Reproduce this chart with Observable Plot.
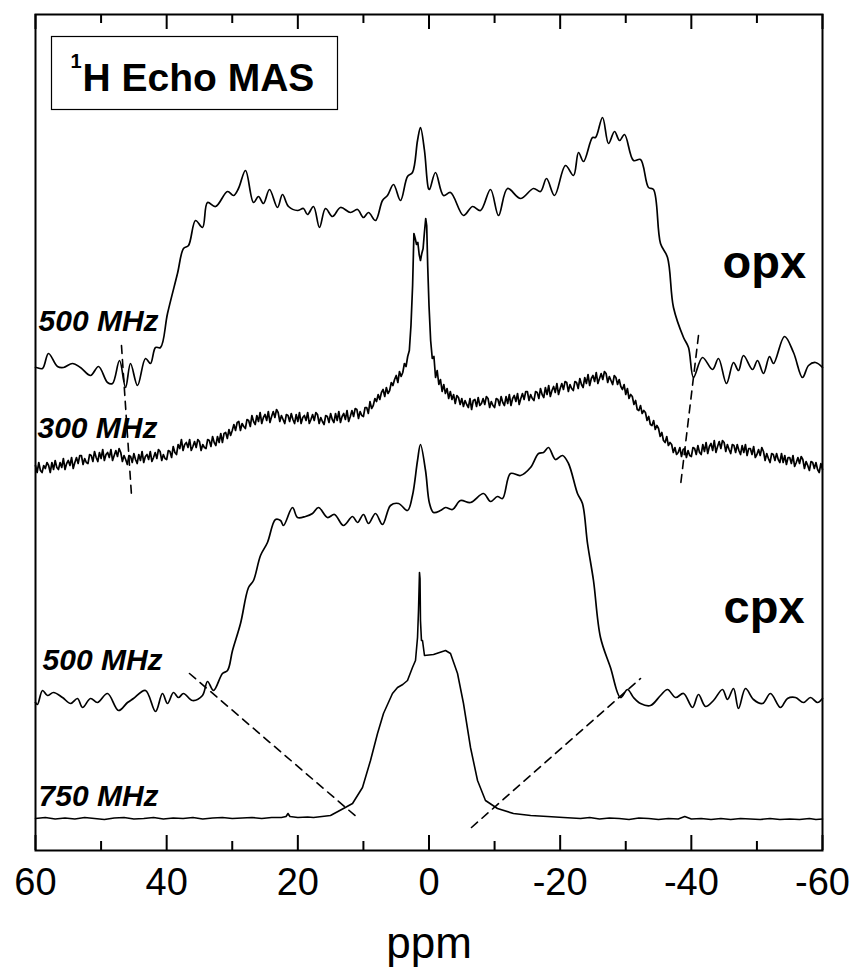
<!DOCTYPE html>
<html><head><meta charset="utf-8">
<script src="https://cdn.jsdelivr.net/npm/d3@7"></script>
<script src="https://cdn.jsdelivr.net/npm/@observablehq/plot@0.6"></script>
<style>body{margin:0;background:#fff;} svg{display:block;}</style>
</head><body><div id="chart"></div>
<script>
// x ticks (ppm)
const majorTicks = [60, 40, 20, 0, -20, -40, -60];
const minorTicks = [50, 30, 10, -10, -30, -50];

// Spectra: [ppm, stacked intensity (a.u.)]
const opx500 = [[60,483],[59.85,483],[58.93,482],[58.02,497],[56.65,484],[55.73,483],[54.36,487],[53.14,483],[51.61,475],[50.39,484],[49.02,468],[48.26,467],[47.19,490],[46.27,463],[45.51,487],[44.45,465],[43.23,492],[42.47,487],[41.70,503],[40.94,503],[39.87,537],[38.35,577],[37.43,602],[36.67,605],[35.60,630],[34.54,623],[33.77,648],[32.55,644],[30.72,659],[29.81,655],[29.05,662],[27.98,680],[26.76,648],[26.00,654],[25.24,647],[24.32,661],[23.10,643],[22.34,656],[21.42,644],[20.05,640],[19.14,642],[18.53,636],[17.61,644],[16.70,623],[15.78,642],[14.71,634],[13.49,643],[11.97,638],[10.90,641],[9.99,633],[9.22,638],[8.16,630],[7.09,650],[6.33,655],[5.41,666],[4.35,650],[3.28,674],[2.52,678],[1.75,710],[1.30,723],[0.69,700],[0.08,662],[-0.08,661],[-0.99,678],[-2.21,655],[-3.28,658],[-5.26,635],[-6.63,644],[-7.85,640],[-9.38,661],[-10.60,635],[-11.97,662],[-13.95,652],[-15.93,662],[-17.00,659],[-17.92,672],[-19.14,655],[-20.81,685],[-22.03,675],[-22.80,698],[-23.56,689],[-24.93,713],[-25.39,713],[-26.46,733],[-27.37,707],[-28.29,719],[-29.05,710],[-29.81,716],[-31.18,690],[-32.25,691],[-33.47,663],[-34.23,661],[-35.30,607],[-36.37,593],[-37.28,543],[-38.81,513],[-39.57,503],[-40.33,473],[-41.70,493],[-43.23,481],[-44.14,492],[-45.36,467],[-46.43,488],[-47.19,480],[-47.95,495],[-49.33,481],[-50.09,490],[-51.00,477],[-51.92,494],[-52.53,487],[-54.21,514],[-55.58,498],[-56.95,473],[-57.87,485],[-58.93,488],[-60.00,483]];

const opx300 = [[60,385],[59.75,378],[59.5,388],[59.25,380],[59,378],[58.75,385],[58.5,382],[58.25,388],[58,385],[57.75,378],[57.5,388],[57.25,381],[57,390],[56.75,383],[56.5,381],[56.25,388],[56,383],[55.75,392],[55.5,381],[55.25,387],[55,390],[54.75,385],[54.5,393],[54.25,382],[54,388],[53.75,393],[53.5,387],[53.25,395],[53,395],[52.75,386],[52.5,392],[52.25,388],[52,387],[51.75,396],[51.5,395],[51.25,389],[51,399],[50.75,393],[50.5,389],[50.25,398],[50,392],[49.75,401],[49.5,390],[49.25,396],[49,398],[48.75,393],[48.5,401],[48.25,390],[48,395],[47.75,400],[47.5,394],[47.25,402],[47,398],[46.75,389],[46.5,395],[46.25,391],[46,386],[45.75,395],[45.5,394],[45.25,388],[45,397],[44.75,391],[44.5,387],[44.25,396],[44,390],[43.75,399],[43.5,388],[43.25,394],[43,396],[42.75,391],[42.5,399],[42.25,389],[42,393],[41.75,398],[41.5,392],[41.25,401],[41,399],[40.75,390],[40.5,396],[40.25,392],[40,391],[39.75,400],[39.5,399],[39.25,393],[39,404],[38.75,398],[38.5,396],[38.25,406],[38,402],[37.75,411],[37.5,400],[37.25,406],[37,408],[36.75,403],[36.5,411],[36.25,400],[36,404],[35.75,409],[35.5,403],[35.25,411],[35,409],[34.75,400],[34.5,406],[34.25,403],[34,402],[33.75,411],[33.5,410],[33.25,404],[33,414],[32.75,408],[32.5,405],[32.25,414],[32,408],[31.75,417],[31.5,408],[31.25,417],[31,418],[30.75,412],[30.5,421],[30.25,415],[30,420],[29.75,426],[29.5,420],[29.25,428],[29,429],[28.75,420],[28.5,427],[28.25,424],[28,422],[27.75,431],[27.5,430],[27.25,424],[27,435],[26.75,429],[26.5,426],[26.25,435],[26,429],[25.75,438],[25.5,427],[25.25,433],[25,436],[24.75,430],[24.5,439],[24.25,428],[24,434],[23.75,439],[23.5,433],[23.25,441],[23,438],[22.75,429],[22.5,435],[22.25,431],[22,427],[21.75,436],[21.5,435],[21.25,429],[21,437],[20.75,431],[20.5,427],[20.25,436],[20,429],[19.75,438],[19.5,427],[19.25,433],[19,435],[18.75,430],[18.5,438],[18.25,427],[18,431],[17.75,436],[17.5,430],[17.25,438],[17,436],[16.75,427],[16.5,433],[16.25,429],[16,426],[15.75,435],[15.5,434],[15.25,428],[15,437],[14.75,431],[14.5,428],[14.25,437],[14,430],[13.75,439],[13.5,428],[13.25,434],[13,437],[12.75,431],[12.5,440],[12.25,429],[12,434],[11.75,440],[11.5,434],[11.25,442],[11,441],[10.75,432],[10.5,439],[10.25,435],[10,434],[9.75,443],[9.5,443],[9.25,437],[9,449],[8.75,442],[8.5,445],[8.25,452],[8,449],[7.75,456],[7.5,451],[7.25,458],[7,461],[6.75,454],[6.5,463],[6.25,457],[6,460],[5.75,468],[5.5,465],[5.25,471],[5,475],[4.75,468],[4.5,479],[4.25,474],[4,478],[3.75,487],[3.5,484],[3.25,494],[3,500],[2.75,525],[2.5,565],[2.3,617],[2.1,612],[1.9,606],[1.7,608],[1.5,596],[1.3,590],[1.1,597],[0.9,602],[0.7,618],[0.5,632],[0.35,625],[0.2,585],[0,545],[-0.25,510],[-0.5,492],[-0.75,494],[-1,473],[-1.25,480],[-1.5,466],[-1.75,471],[-2,459],[-2.25,466],[-2.5,457],[-2.75,462],[-3,452],[-3.25,459],[-3.5,451],[-3.75,456],[-4,447],[-4.25,455],[-4.5,453],[-4.75,446],[-5,452],[-5.25,444],[-5.5,450],[-5.75,446],[-6,443],[-6.25,452],[-6.5,441],[-6.75,450],[-7,451],[-7.25,444],[-7.5,453],[-7.75,445],[-8,447],[-8.25,452],[-8.5,446],[-8.75,454],[-9,452],[-9.25,443],[-9.5,449],[-9.75,445],[-10,443],[-10.25,452],[-10.5,451],[-10.75,445],[-11,454],[-11.25,448],[-11.5,445],[-11.75,454],[-12,447],[-12.25,456],[-12.5,445],[-12.75,452],[-13,455],[-13.25,449],[-13.5,457],[-13.75,446],[-14,452],[-14.25,457],[-14.5,451],[-14.75,459],[-15,459],[-15.25,450],[-15.5,456],[-15.75,452],[-16,450],[-16.25,459],[-16.5,458],[-16.75,452],[-17,462],[-17.25,456],[-17.5,453],[-17.75,463],[-18,456],[-18.25,465],[-18.5,454],[-18.75,460],[-19,464],[-19.25,458],[-19.5,467],[-19.75,456],[-20,462],[-20.25,467],[-20.5,461],[-20.75,469],[-21,468],[-21.25,459],[-21.5,466],[-21.75,462],[-22,460],[-22.25,469],[-22.5,468],[-22.75,462],[-23,472],[-23.25,466],[-23.5,463],[-23.75,473],[-24,467],[-24.25,476],[-24.5,465],[-24.75,472],[-25,475],[-25.25,469],[-25.5,478],[-25.75,467],[-26,472],[-26.25,477],[-26.5,471],[-26.75,479],[-27,477],[-27.25,468],[-27.5,474],[-27.75,470],[-28,466],[-28.25,475],[-28.5,473],[-28.75,466],[-29,471],[-29.25,464],[-29.5,461],[-29.75,466],[-30,456],[-30.25,462],[-30.5,452],[-30.75,456],[-31,454],[-31.25,446],[-31.5,450],[-31.75,441],[-32,440],[-32.25,445],[-32.5,437],[-32.75,440],[-33,438],[-33.25,430],[-33.5,434],[-33.75,426],[-34,425],[-34.25,430],[-34.5,421],[-34.75,425],[-35,422],[-35.25,414],[-35.5,418],[-35.75,410],[-36,408],[-36.25,414],[-36.5,405],[-36.75,408],[-37,406],[-37.25,398],[-37.5,403],[-37.75,396],[-38,398],[-38.25,403],[-38.5,394],[-38.75,401],[-39,402],[-39.25,393],[-39.5,400],[-39.75,395],[-40,394],[-40.25,403],[-40.5,402],[-40.75,396],[-41,405],[-41.25,398],[-41.5,396],[-41.75,406],[-42,399],[-42.25,408],[-42.5,397],[-42.75,404],[-43,407],[-43.25,400],[-43.5,410],[-43.75,398],[-44,404],[-44.25,409],[-44.5,402],[-44.75,410],[-45,408],[-45.25,399],[-45.5,406],[-45.75,401],[-46,397],[-46.25,406],[-46.5,405],[-46.75,398],[-47,406],[-47.25,400],[-47.5,396],[-47.75,405],[-48,398],[-48.25,406],[-48.5,395],[-48.75,402],[-49,402],[-49.25,396],[-49.5,404],[-49.75,393],[-50,396],[-50.25,401],[-50.5,395],[-50.75,403],[-51,399],[-51.25,390],[-51.5,397],[-51.75,392],[-52,388],[-52.25,397],[-52.5,396],[-52.75,390],[-53,397],[-53.25,391],[-53.5,388],[-53.75,397],[-54,388],[-54.25,395],[-54.5,386],[-54.75,393],[-55,393],[-55.25,387],[-55.5,395],[-55.75,384],[-56,388],[-56.25,393],[-56.5,387],[-56.75,394],[-57,391],[-57.25,382],[-57.5,389],[-57.75,385],[-58,380],[-58.25,389],[-58.5,388],[-58.75,382],[-59,388],[-59.25,381],[-59.5,378],[-59.75,387],[-60,381]];

const cpx500 = [[60,148],[59.70,146],[58.93,160],[58.17,155],[57.26,158],[55.88,153],[54.66,147],[53.60,152],[52.83,143],[51.61,152],[50.55,148],[49.02,157],[47.34,140],[45.97,148],[45.06,152],[43.23,160],[41.70,139],[40.64,157],[39.87,147],[38.96,158],[38.20,153],[37.43,157],[36.06,150],[34.54,155],[33.77,169],[32.86,160],[31.49,177],[30.72,180],[29.96,200],[28.74,227],[27.52,263],[26.76,270],[25.69,295],[24.63,308],[23.41,331],[22.64,330],[22.19,325],[20.81,343],[20.05,333],[18.83,334],[17.76,337],[16.85,343],[15.48,333],[14.41,336],[13.04,325],[11.66,334],[10.90,328],[9.99,336],[9.22,327],[8.16,337],[7.09,326],[5.87,345],[4.65,347],[3.28,340],[2.52,355],[1.75,390],[1.30,406],[0.53,380],[-0.08,347],[-0.69,338],[-1.75,340],[-2.52,343],[-3.58,341],[-4.80,350],[-6.33,348],[-8.31,357],[-9.38,349],[-10.44,354],[-11.21,352],[-12.43,377],[-13.95,375],[-15.48,383],[-16.70,397],[-17.46,398],[-18.22,403],[-19.29,391],[-20.36,395],[-21.27,387],[-22.64,357],[-23.40,347],[-24.17,307],[-25.08,270],[-26.15,213],[-27.67,183],[-29.20,153],[-30.27,161],[-31.18,153],[-32.25,147],[-33.77,145],[-35.30,155],[-36.37,161],[-37.59,153],[-38.81,157],[-40.18,143],[-41.09,156],[-42.16,144],[-43.38,150],[-44.75,161],[-45.51,151],[-46.43,162],[-47.19,142],[-48.26,162],[-49.48,151],[-50.85,147],[-52.07,157],[-53.59,143],[-54.66,152],[-55.88,153],[-57.10,148],[-58.17,153],[-59.24,148],[-60.00,152]];

const cpx750 = [[60,32],[58.5,33],[57,31.5],[55.5,32.5],[54,31.5],[52.5,33],[51,32],[49.5,31],[48,32.5],[46.5,33],[45,31.5],[43.5,32],[42,33],[40.5,31.5],[39,32.5],[37.5,32],[36,33],[34.5,31.5],[33,32.5],[31.5,33],[30,32],[28.5,32.5],[27,33],[25.5,32],[24,33],[22.5,33],[21.8,34],[21.5,37],[21.2,34],[20,33],[18.5,33.5],[17.61,33],[15.02,35],[13.04,42],[11.66,47],[10.14,63],[8.92,90],[7.85,117],[6.94,137],[5.57,157],[4.80,163],[4.0,166],[3.28,170],[2.52,183],[2.06,190],[1.75,213],[1.60,240],[1.45,278],[1.37,272],[1.30,230],[1.15,210],[0.99,210],[0.69,195],[-0.69,196],[-2.52,200],[-3.28,197],[-4.35,177],[-5.26,147],[-6.33,103],[-7.40,70],[-8.61,50],[-10.44,42],[-12.88,37],[-15.5,35],[-18.07,34],[-20.5,33],[-23.1,32],[-24.5,33],[-26,31.5],[-27.5,32.5],[-29,32],[-30.5,31],[-32,32.5],[-33.5,32],[-35,31],[-36.5,32],[-38,31.5],[-39,34],[-40,31.5],[-41.5,32],[-43,31],[-44.5,32],[-46,31],[-47.5,32],[-49,31.5],[-50.5,31],[-52,32],[-53.5,31],[-55,31.5],[-56.5,31],[-58,32],[-59,31],[-60,31.5]];

// Dashed guide lines [ppm, intensity]
const guideOpxLeft = [[46.89,505],[45.36,355]];
const guideOpxRight = [[-41.09,515],[-38.35,365]];
const guideCpxLeft = [[36.52,177],[10.75,32]];
const guideCpxRight = [[-6.48,23],[-32.25,172]];

// Text labels
const fieldLabels = ["500 MHz", "300 MHz", "500 MHz", "750 MHz"];
const sampleLabels = ["opx", "cpx"];
const titleText = "H Echo MAS";
const titleSup = "1";
const xLabel = "ppm";

const FONT = "'Liberation Sans', Arial, Helvetica, sans-serif";
const px = d => d[0], py = d => d[1];
const lineOpts = (w, curve) => ({x: px, y: py, stroke: "black", strokeWidth: w, curve, strokeLinejoin: "round"});
const dashOpts = {x: px, y: py, stroke: "black", strokeWidth: 1.6, strokeDasharray: "8,6"};

const labelAt = [[59.54, 520], [59.70, 413], [58.93, 181], [59.54, 45]];
const sampleAt = [[-44.75, 573], [-44.91, 228]];

const chart = Plot.plot({
  width: 853, height: 968,
  marginTop: 14, marginRight: 31, marginBottom: 118, marginLeft: 35,
  x: {domain: [60, -60]},
  y: {domain: [0, 836], axis: null},
  style: {fontFamily: FONT, background: "white", color: "black", overflow: "visible"},
  marks: [
    Plot.line(opx500, lineOpts(1.7, "catmull-rom")),
    Plot.line(opx300, lineOpts(1.7, "linear")),
    Plot.line(cpx500, lineOpts(1.7, "catmull-rom")),
    Plot.line(cpx750, lineOpts(1.6, "linear")),
    Plot.line(guideOpxLeft, dashOpts),
    Plot.line(guideOpxRight, dashOpts),
    Plot.line(guideCpxLeft, dashOpts),
    Plot.line(guideCpxRight, dashOpts),
    Plot.ruleX(majorTicks, {x: d => d, y1: 0, y2: 15, stroke: "black", strokeWidth: 2}),
    Plot.ruleX(minorTicks, {x: d => d, y1: 0, y2: 9, stroke: "black", strokeWidth: 2}),
    Plot.ruleX(majorTicks, {x: d => d, y1: 836, y2: 821, stroke: "black", strokeWidth: 2}),
    Plot.ruleX(minorTicks, {x: d => d, y1: 836, y2: 827, stroke: "black", strokeWidth: 2}),
    Plot.frame({stroke: "black", strokeWidth: 2}),
    Plot.axisX({ticks: majorTicks, tickSize: 0, tickPadding: 18, fontSize: 38, tickFormat: d => `${d}`, label: null}),
    Plot.text([xLabel], {frameAnchor: "bottom", dy: 107, lineAnchor: "bottom", fontSize: 44, fill: "black"}),
    Plot.text(fieldLabels, {x: (d, i) => labelAt[i][0], y: (d, i) => labelAt[i][1], text: d => d, textAnchor: "start", lineAnchor: "bottom", fontSize: 30, fontWeight: "bold", fontStyle: "italic", fill: "black"}),
    Plot.text(sampleLabels, {x: (d, i) => sampleAt[i][0], y: (d, i) => sampleAt[i][1], text: d => d, textAnchor: "start", lineAnchor: "bottom", fontSize: 47, fontWeight: "bold", fill: "black"}),
    Plot.text([titleSup], {x: 54.66, y: 783, textAnchor: "start", lineAnchor: "bottom", fontSize: 20, fontWeight: "bold", fill: "black"}),
    Plot.text([titleText], {x: 52.83, y: 760, textAnchor: "start", lineAnchor: "bottom", fontSize: 39, fontWeight: "bold", fill: "black"})
  ]
});

document.getElementById("chart").append(chart);

// Box around the title, sized from the rendered title text (screen coords -> svg coords)
const svg = d3.select(chart);
const svgRect = chart.getBoundingClientRect();
const titleNodes = svg.selectAll("text").filter(function() {
  const t = this.textContent.trim();
  return t === titleText || t === titleSup;
}).nodes();
if (titleNodes.length) {
  let x0 = Infinity, y0 = Infinity, x1 = -Infinity, y1 = -Infinity;
  for (const n of titleNodes) {
    const b = n.getBoundingClientRect();
    x0 = Math.min(x0, b.left - svgRect.left); y0 = Math.min(y0, b.top - svgRect.top);
    x1 = Math.max(x1, b.right - svgRect.left); y1 = Math.max(y1, b.bottom - svgRect.top);
  }
  svg.insert("rect", "g[aria-label='text']")
    .attr("x", Math.round(x0 - 20) + 0.5).attr("y", Math.round(y0 - 14) + 0.5)
    .attr("width", Math.round(x1 - x0 + 42)).attr("height", Math.round(y1 - y0 + 24))
    .attr("fill", "white").attr("stroke", "black").attr("stroke-width", 1.2);
}
</script>
</body></html>
